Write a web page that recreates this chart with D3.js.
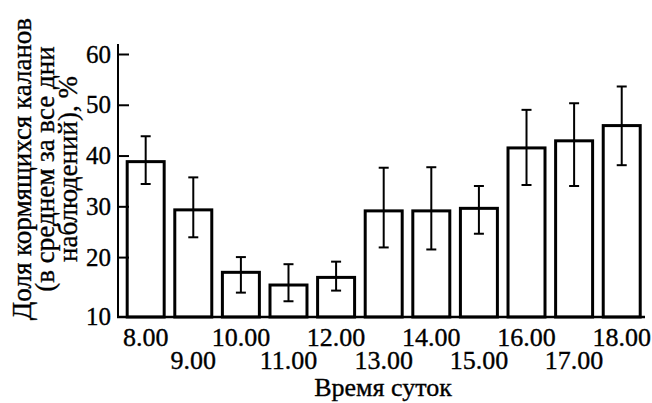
<!DOCTYPE html>
<html><head><meta charset="utf-8">
<script src="https://cdn.jsdelivr.net/npm/d3@7/dist/d3.min.js"></script>
<style>body{margin:0;background:#fff}svg{display:block}</style>
</head><body>
<svg id="c" width="652" height="403"></svg>
<script>
const hours = ["8.00","9.00","10.00","11.00","12.00","13.00","14.00","15.00","16.00","17.00","18.00"];
const values = [38.8, 29.3, 17.0, 14.5, 16.0, 29.1, 29.1, 29.6, 41.5, 42.9, 45.9];
const errHigh = [43.8, 35.7, 20.0, 18.6, 19.1, 37.6, 37.7, 34.0, 49.0, 50.3, 53.6];
const errLow  = [34.4, 23.9, 13.0, 11.3, 13.4, 21.9, 21.5, 24.6, 34.2, 34.0, 38.1];
const yTicks = [20, 30, 40, 50, 60];
const yBaseLabel = "10";
const yLabelLines = ["Доля кормящихся каланов", "(в среднем за все дни", "наблюдений), %"];
const xTitle = "Время суток";

const svg = d3.select("#c");
const font = "'Liberation Serif', 'Times New Roman', serif";
const x0 = 118, baseY = 317;

const x = d3.scaleBand().domain(hours).range([x0, 649.4]).paddingInner(0.223).paddingOuter(0.193);
const y = d3.scaleLinear().domain([8.2, 60]).range([baseY, 54]);

function styleText(sel, size) {
  return sel.style("font-family", font).style("font-size", size + "px")
    .attr("fill", "#000").attr("stroke", "#000").attr("stroke-width", 0.35);
}

// bars
svg.append("g").selectAll("rect").data(values).join("rect")
  .attr("x", (d,i) => x(hours[i]))
  .attr("y", d => y(d))
  .attr("width", x.bandwidth())
  .attr("height", d => baseY - y(d))
  .attr("fill", "#fff").attr("stroke", "#000").attr("stroke-width", 3);

// error bars
const eg = svg.append("g").attr("stroke", "#000").attr("stroke-width", 2);
hours.forEach((h, i) => {
  const cx = x(h) + x.bandwidth() / 2;
  eg.append("line").attr("x1", cx).attr("x2", cx).attr("y1", y(errLow[i])).attr("y2", y(errHigh[i]));
  eg.append("line").attr("x1", cx - 5).attr("x2", cx + 5).attr("y1", y(errLow[i])).attr("y2", y(errLow[i]));
  eg.append("line").attr("x1", cx - 5).attr("x2", cx + 5).attr("y1", y(errHigh[i])).attr("y2", y(errHigh[i]));
});

// axes lines
svg.append("line").attr("x1", x0).attr("x2", x0).attr("y1", 44).attr("y2", baseY + 1)
  .attr("stroke", "#000").attr("stroke-width", 2);
svg.append("line").attr("x1", x0 - 1).attr("x2", 645).attr("y1", baseY).attr("y2", baseY)
  .attr("stroke", "#000").attr("stroke-width", 2.5);

// y axis ticks
const yAxis = d3.axisLeft(y).tickValues(yTicks).tickSizeInner(-11).tickSizeOuter(0).tickPadding(7);
const ya = svg.append("g").attr("transform", `translate(${x0},0)`).call(yAxis);
ya.select(".domain").remove();
ya.selectAll(".tick line").attr("stroke", "#000").attr("stroke-width", 2);
styleText(ya.selectAll(".tick text"), 25);
styleText(svg.append("text").attr("x", x0 - 7).attr("y", baseY).attr("dy", "0.32em")
  .attr("text-anchor", "end").text(yBaseLabel), 25);

// x labels (two staggered rows)
styleText(svg.append("g").selectAll("text").data(hours).join("text")
  .attr("x", d => x(d) + x.bandwidth() / 2)
  .attr("y", (d,i) => i % 2 === 0 ? 346 : 369)
  .attr("text-anchor", "middle").text(d => d), 26);

styleText(svg.append("text").attr("x", 383).attr("y", 396).attr("text-anchor", "middle").text(xTitle), 26);

// y title
const yl = svg.append("g").attr("transform", "translate(0,169) rotate(-90)");
yLabelLines.forEach((t, i) => {
  styleText(yl.append("text").attr("x", 0).attr("y", 31 + i * 23).attr("text-anchor", "middle").text(t), 27);
});
</script>
</body></html>
